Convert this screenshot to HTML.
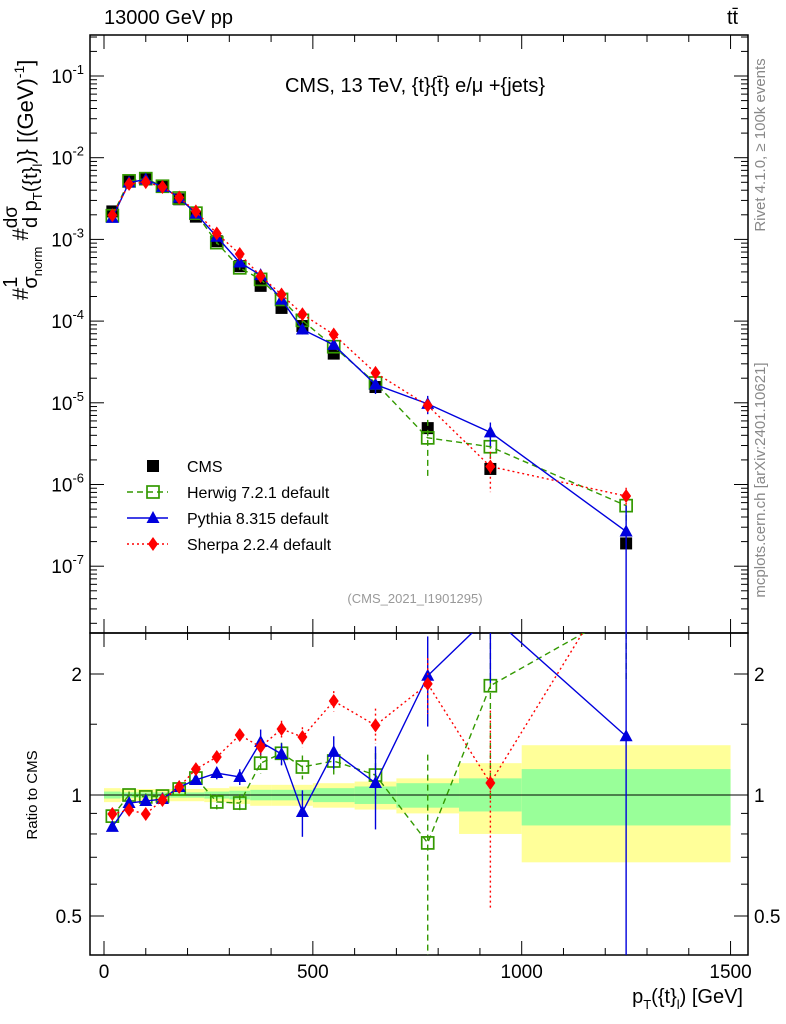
<!DOCTYPE html>
<html><head><meta charset="utf-8"><style>
html,body{margin:0;padding:0;background:#fff;width:786px;height:1024px;overflow:hidden}
svg{display:block;font-family:"Liberation Sans","DejaVu Sans",sans-serif}
</style></head><body>
<svg id="c" width="786" height="1024" xmlns="http://www.w3.org/2000/svg">
<text x="104" y="24" font-size="20">13000 GeV pp</text>
<text x="727" y="24" font-size="20">tt̄</text>
<text x="415" y="92" font-size="20" text-anchor="middle">CMS, 13 TeV, {t}{t̄} e/μ +{jets}</text>
<text x="415" y="603" font-size="13" fill="#999" text-anchor="middle">(CMS_2021_I1901295)</text>
<text transform="translate(765,145) rotate(-90)" font-size="15" fill="#888" text-anchor="middle">Rivet 4.1.0, ≥ 100k events</text>
<text transform="translate(765,480) rotate(-90)" font-size="15" fill="#888" text-anchor="middle">mcplots.cern.ch [arXiv:2401.10621]</text>
<g transform="translate(28,300) rotate(-90)">
<text x="0" y="0" font-size="22">#<tspan dy="-11" font-size="20">1</tspan><tspan dy="20" dx="-12" font-size="20">σ</tspan><tspan dy="5" font-size="13">norm</tspan><tspan dy="-14" font-size="22"> #</tspan><tspan dy="-11" font-size="19">dσ</tspan><tspan dy="20" dx="-22" font-size="20">d p</tspan><tspan dy="5" font-size="13">T</tspan><tspan dy="-5" font-size="20">({t}</tspan><tspan dy="5" font-size="13">l</tspan><tspan dy="-9" font-size="22">)} [(GeV)</tspan><tspan dy="-9" font-size="14">-1</tspan><tspan dy="9" font-size="22">]</tspan></text>
</g>
<text transform="translate(37,795) rotate(-90)" font-size="15" text-anchor="middle">Ratio to CMS</text>
<text x="743" y="1003" font-size="20" text-anchor="end">p<tspan dy="6" font-size="13">T</tspan><tspan dy="-6">({t}</tspan><tspan dy="6" font-size="13">l</tspan><tspan dy="-6">) [GeV]</tspan></text>
<g id="bands"></g><g id="axes"></g><g id="series"></g><g id="legend"></g>
</svg>
<script>
const xCenters=[20,60,100,140,180,220,270,325,375,425,475,550,650,775,925,1250];
const binEdges=[0,40,80,120,160,200,240,300,350,400,450,500,600,700,850,1000,1500];
const cmsValues=[2.2e-3,5.2e-3,5.6e-3,4.5e-3,3.1e-3,1.9e-3,9.5e-4,4.7e-4,2.7e-4,1.45e-4,8.7e-5,4.0e-5,1.56e-5,4.9e-6,1.55e-6,1.9e-7];
const herwigRatio=[0.886,1.0,0.989,0.994,1.035,1.102,0.961,0.955,1.20,1.27,1.174,1.215,1.121,0.76,1.87,2.9];
const pythiaRatio=[0.833,0.955,0.966,0.977,1.047,1.09,1.134,1.109,1.355,1.265,0.907,1.28,1.071,1.98,2.8,1.40];
const sherpaRatio=[0.897,0.918,0.897,0.972,1.047,1.16,1.243,1.41,1.317,1.46,1.394,1.713,1.49,1.89,1.071,3.8];
const herwigErr=[0.02,0.02,0.02,0.02,0.02,0.03,0.04,0.05,0.07,0.08,0.08,0.09,0.15,0.5,0.9,1.0];
const pythiaErr=[0.02,0.02,0.02,0.02,0.02,0.03,0.04,0.05,0.1,0.08,0.12,0.12,0.25,0.5,0.9,1.5];
const sherpaErr=[0.02,0.02,0.02,0.02,0.02,0.03,0.04,0.05,0.06,0.07,0.08,0.1,0.15,0.3,0.55,1.0];
const yellowUp=[0.04,0.035,0.035,0.035,0.035,0.035,0.04,0.05,0.06,0.06,0.06,0.07,0.08,0.1,0.2,0.33];
const yellowDn=[0.04,0.035,0.035,0.035,0.035,0.035,0.04,0.05,0.06,0.06,0.06,0.07,0.08,0.1,0.2,0.32];
const greenUp=[0.02,0.015,0.015,0.015,0.015,0.015,0.02,0.025,0.03,0.03,0.03,0.04,0.05,0.07,0.1,0.16];
const greenDn=[0.02,0.015,0.015,0.015,0.015,0.015,0.02,0.025,0.03,0.03,0.03,0.04,0.05,0.07,0.09,0.16];
const mainTicks=[-7,-6,-5,-4,-3,-2,-1];
const xTicks=[0,500,1000,1500];
const ratioTicks=[0.5,1,2];

const NS="http://www.w3.org/2000/svg";
const L=90,R=748,T=35,M=633,B=955;
const X=v=>104+v*0.4177;
const Y=v=>76+(-1-Math.log10(v))*81.7;
const YR=r=>795-Math.log2(r)*121;
const cl=(v,a,b)=>Math.max(a,Math.min(b,v));
function mk(p,tag,at){const e=document.createElementNS(NS,tag);for(const k in at)e.setAttribute(k,at[k]);p.appendChild(e);return e;}
const G=id=>document.getElementById(id);

const bg=G('bands');
for(let i=0;i<cmsValues.length;i++){
 const x1=X(binEdges[i]),x2=X(binEdges[i+1]);
 let e=mk(bg,'rect',{x:x1,y:YR(1+yellowUp[i]),width:x2-x1,height:YR(1-yellowDn[i])-YR(1+yellowUp[i]),fill:'#ffff99'});
 
 
 e=mk(bg,'rect',{x:x1,y:YR(1+greenUp[i]),width:x2-x1,height:YR(1-greenDn[i])-YR(1+greenUp[i]),fill:'#99ff99'});
 
 
}
const ax=G('axes');
mk(ax,'rect',{x:L,y:T,width:R-L,height:M-T,fill:'none',stroke:'#000','stroke-width':1.5});
mk(ax,'rect',{x:L,y:M,width:R-L,height:B-M,fill:'none',stroke:'#000','stroke-width':1.5});
mk(ax,'line',{x1:L,x2:R,y1:YR(1),y2:YR(1),stroke:'#000','stroke-width':1});
for(const d of mainTicks){
 const y=Y(Math.pow(10,d));
 mk(ax,'line',{x1:L,x2:L+14,y1:y,y2:y,stroke:'#000'});mk(ax,'line',{x1:R-14,x2:R,y1:y,y2:y,stroke:'#000'});
 const t=mk(ax,'text',{x:L-6,y:y+7,'font-size':19,'text-anchor':'end'});t.innerHTML='10<tspan dy="-9" font-size="13">'+(d)+'</tspan>';
 
 
}
for(let d=-8;d<0;d++)for(let k=2;k<10;k++){const y=Y(k*Math.pow(10,d));if(y<T||y>M)continue;
 mk(ax,'line',{x1:L,x2:L+7,y1:y,y2:y,stroke:'#000'});mk(ax,'line',{x1:R-7,x2:R,y1:y,y2:y,stroke:'#000'});}
for(const r of ratioTicks){const y=YR(r);
 mk(ax,'line',{x1:L,x2:L+14,y1:y,y2:y,stroke:'#000'});mk(ax,'line',{x1:R-14,x2:R,y1:y,y2:y,stroke:'#000'});
 let t=mk(ax,'text',{x:L-8,y:y+7,'font-size':19,'text-anchor':'end'});t.textContent=r;
 
 
 t=mk(ax,'text',{x:R+6,y:y+7,'font-size':19});t.textContent=r;
 
 }
for(const r of [0.6,0.7,0.8,0.9,1.5]){const y=YR(r);
 mk(ax,'line',{x1:L,x2:L+7,y1:y,y2:y,stroke:'#000'});mk(ax,'line',{x1:R-7,x2:R,y1:y,y2:y,stroke:'#000'});}
for(let v=0;v<=1500;v+=100){const x=X(v),big=v%500==0,h=big?14:7;
 for(const [a,b] of [[T,T+h],[M-h,M],[M,M+h],[B-h,B]])mk(ax,'line',{x1:x,x2:x,y1:a,y2:b,stroke:'#000'});}
for(const v of xTicks){const t=mk(ax,'text',{x:X(v),y:978,'font-size':19,'text-anchor':'middle'});t.textContent=v;
 
 }

const sg=G('series');
const series=[
 {name:'herwig',ratio:herwigRatio,err:herwigErr,color:'#339900',dash:'6,4',marker:'sq'},
 {name:'pythia',ratio:pythiaRatio,err:pythiaErr,color:'#0000dd',dash:'',marker:'tri'},
 {name:'sherpa',ratio:sherpaRatio,err:sherpaErr,color:'#ff0000',dash:'2,3',marker:'dia'}];
function marker(p,type,x,y,c){
 if(type==='sq')return mk(p,'rect',{x:x-6,y:y-6,width:12,height:12,fill:'none',stroke:c,'stroke-width':1.7});
 if(type==='tri')return mk(p,'polygon',{points:`${x},${y-7} ${x-6.5},${y+5} ${x+6.5},${y+5}`,fill:c});
 if(type==='dia')return mk(p,'polygon',{points:`${x},${y-7} ${x-5},${y} ${x},${y+7} ${x+5},${y}`,fill:c});
 return mk(p,'rect',{x:x-6,y:y-6,width:12,height:12,fill:c});
}
const clipM=mk(sg,'clipPath',{id:'cm'});mk(clipM,'rect',{x:L,y:T,width:R-L,height:M-T});
const clipR=mk(sg,'clipPath',{id:'cr'});mk(clipR,'rect',{x:L,y:M,width:R-L,height:B-M});
const gm=mk(sg,'g',{'clip-path':'url(#cm)'}),gr=mk(sg,'g',{'clip-path':'url(#cr)'});
for(let i=0;i<cmsValues.length;i++){const e=marker(gm,'cms',X(xCenters[i]),Y(cmsValues[i]),'#000');
 
 }
for(const s of series){
 const pm=xCenters.map((x,i)=>[X(x),cl(Y(cmsValues[i]*s.ratio[i]),T-20,M+20)]);
 const pr=xCenters.map((x,i)=>[X(x),cl(YR(s.ratio[i]),M-40,B+20)]);
 let l=mk(gm,'polyline',{points:pm.map(p=>p.join(',')).join(' '),fill:'none',stroke:s.color,'stroke-width':1.4,'stroke-dasharray':s.dash});
 
 
 l=mk(gr,'polyline',{points:xCenters.map((x,i)=>X(x)+','+YR(s.ratio[i])).join(' '),fill:'none',stroke:s.color,'stroke-width':1.4,'stroke-dasharray':s.dash});
 
 
 for(let i=0;i<xCenters.length;i++){
  const x=X(xCenters[i]),r=s.ratio[i],e=s.err[i];
  const lo=Math.max(r-e,0.01);
  let b=mk(gr,'line',{x1:x,x2:x,y1:cl(YR(r+e),M,B),y2:cl(YR(lo),M,B),stroke:s.color,'stroke-width':1.4,'stroke-dasharray':s.dash});
  
  
  const v=cmsValues[i]*r,ev=v*e/r;
  b=mk(gm,'line',{x1:x,x2:x,y1:cl(Y(v+ev),T,M),y2:cl(Y(Math.max(v-ev,1e-9)),T,M),stroke:s.color,'stroke-width':1.4,'stroke-dasharray':s.dash});
  
  
  let m=marker(gm,s.marker,x,pm[i][1],s.color);
  
  
  m=marker(gr,s.marker,x,pr[i][1],s.color);
  
  
 }
}
const lg=G('legend');
const leg=[['CMS','#000','','cms'],['Herwig 7.2.1 default','#339900','6,4','sq'],['Pythia 8.315 default','#0000dd','','tri'],['Sherpa 2.2.4 default','#ff0000','2,3','dia']];
leg.forEach((d,i)=>{const y=466+i*26;
 const g=mk(lg,'g',{});
 
 
 if(i>0)mk(g,'line',{x1:127,x2:168,y1:y,y2:y,stroke:d[1],'stroke-width':1.4,'stroke-dasharray':d[2]});
 marker(g,d[3],153,y,d[1]);
 const t=mk(g,'text',{x:187,y:y+6,'font-size':16});t.textContent=d[0];});
</script>
</body></html>
